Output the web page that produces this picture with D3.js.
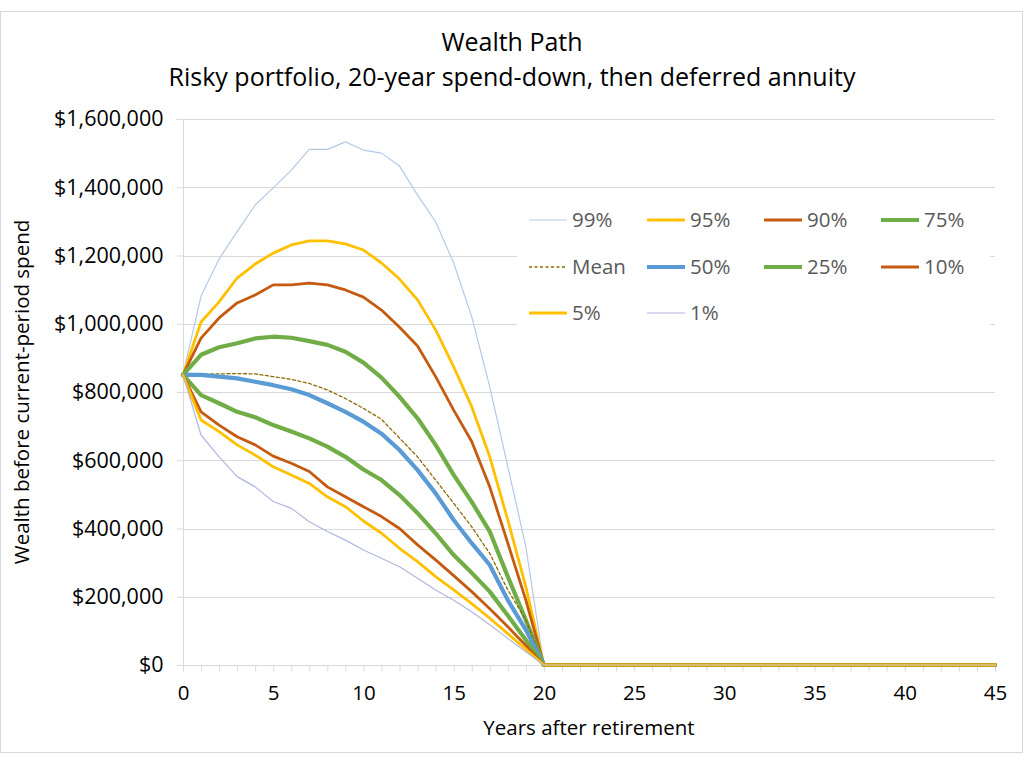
<!DOCTYPE html>
<html><head><meta charset="utf-8">
<script src="https://cdn.jsdelivr.net/npm/d3@7"></script>
<style>
body{margin:0;background:#fff;}
text{font-family:"Open Sans","Noto Sans",sans-serif;}
</style></head>
<body><svg id="c" width="1024" height="768"></svg>
<script>
// Years after retirement
const years = [0,1,2,3,4,5,6,7,8,9,10,11,12,13,14,15,16,17,18,19,20,21,22,23,24,25,26,27,28,29,30,31,32,33,34,35,36,37,38,39,40,41,42,43,44,45];
// Wealth, thousands of dollars
const p99  = [850,1081,1190,1270,1348,1398,1450,1511,1511,1533,1509,1500,1462,1377,1299,1178,1021,815,581,347,0,0,0,0,0,0,0,0,0,0,0,0,0,0,0,0,0,0,0,0,0,0,0,0,0,0];
const p95  = [850,1005,1064,1134,1175,1207,1231,1243,1243,1234,1216,1178,1131,1070,982,874,757,610,425,229,0,0,0,0,0,0,0,0,0,0,0,0,0,0,0,0,0,0,0,0,0,0,0,0,0,0];
const p90  = [850,958,1017,1061,1084,1114,1114,1119,1114,1099,1078,1040,990,935,845,747,655,522,357,190,0,0,0,0,0,0,0,0,0,0,0,0,0,0,0,0,0,0,0,0,0,0,0,0,0,0];
const p75  = [850,909,931,943,957,962,959,949,938,918,886,842,786,723,645,557,478,391,259,132,0,0,0,0,0,0,0,0,0,0,0,0,0,0,0,0,0,0,0,0,0,0,0,0,0,0];
const mean = [850,852,853,854,853,845,837,825,806,781,752,720,665,610,542,474,405,327,220,132,0,0,0,0,0,0,0,0,0,0,0,0,0,0,0,0,0,0,0,0,0,0,0,0,0,0];
const p50  = [850,850,845,840,830,820,808,791,767,742,713,678,630,571,503,425,357,293,190,103,0,0,0,0,0,0,0,0,0,0,0,0,0,0,0,0,0,0,0,0,0,0,0,0,0,0];
const p25  = [850,791,767,742,726,703,684,664,640,610,573,542,498,445,386,322,270,215,145,73,0,0,0,0,0,0,0,0,0,0,0,0,0,0,0,0,0,0,0,0,0,0,0,0,0,0];
const p10  = [850,742,703,669,645,612,591,567,522,493,464,435,400,352,308,262,215,165,112,57,0,0,0,0,0,0,0,0,0,0,0,0,0,0,0,0,0,0,0,0,0,0,0,0,0,0];
const p5   = [850,718,684,645,615,581,557,532,493,464,422,386,342,303,259,220,180,137,92,46,0,0,0,0,0,0,0,0,0,0,0,0,0,0,0,0,0,0,0,0,0,0,0,0,0,0];
const p1   = [850,674,610,552,522,479,459,420,391,366,337,313,288,254,220,190,156,118,78,39,0,0,0,0,0,0,0,0,0,0,0,0,0,0,0,0,0,0,0,0,0,0,0,0,0,0];
const seriesNames = ["99%","95%","90%","75%","Mean","50%","25%","10%","5%","1%"];
const seriesData = [p99,p95,p90,p75,mean,p50,p25,p10,p5,p1];
const seriesColors = ["#b4c9e6","#ffc000","#c55a11","#70ad47","#8c6b00","#5b9bd5","#70ad47","#c55a11","#ffc000","#b0b6e0"];
const seriesWidths = [1.2,2.8,2.8,4.2,1.3,4.2,4.2,2.8,2.8,1.2];
const yTicks = [0,200,400,600,800,1000,1200,1400,1600];
const xTicks = [0,5,10,15,20,25,30,35,40,45];
const title = "Wealth Path";
const subtitle = "Risky portfolio, 20-year spend-down, then deferred annuity";
const xTitle = "Years after retirement";
const yTitle = "Wealth before current-period spend";

const svg = d3.select("#c");
const L=183, R=995, T=119, B=665;
const x = d3.scaleLinear().domain([0,45]).range([L,R]);
const y = d3.scaleLinear().domain([0,1600]).range([B,T]);
const grid="#d9d9d9", txt="#595959";

svg.append("rect").attr("x",0.5).attr("y",11.5).attr("width",1022).attr("height",741)
  .attr("fill","#fff").attr("stroke",grid);

svg.append("text").attr("x",512).attr("y",51).attr("text-anchor","middle")
  .attr("font-size",25).attr("fill","#000").text(title);
svg.append("text").attr("x",512).attr("y",86).attr("text-anchor","middle")
  .attr("font-size",25).attr("fill","#000").text(subtitle);

// gridlines
svg.append("g").selectAll("line").data(yTicks.filter(d=>d>0)).join("line")
  .attr("x1",L).attr("x2",R).attr("y1",d=>Math.round(y(d))+0.5).attr("y2",d=>Math.round(y(d))+0.5)
  .attr("stroke",grid).attr("stroke-width",1);

// y axis
const ya = svg.append("g").attr("transform",`translate(${L+0.5},0)`)
  .call(d3.axisLeft(y).tickValues(yTicks).tickSize(7).tickPadding(13)
    .tickFormat(d=>"$"+d3.format(",")(d*1000)));
ya.select(".domain").attr("stroke",grid).attr("d",`M0,${T}V${B}`);
ya.selectAll(".tick line").attr("stroke",grid);
ya.selectAll(".tick text").attr("font-size",21.5).attr("fill","#000").attr("font-family","Open Sans");

// x axis
const xa = svg.append("g").attr("transform",`translate(0,${B+0.5})`)
  .call(d3.axisBottom(x).tickValues(years).tickSize(6).tickPadding(14)
    .tickFormat(d=>xTicks.includes(d)?d:""));
xa.select(".domain").attr("stroke",grid).attr("d",`M${L},0H${R}`);
xa.selectAll(".tick line").attr("stroke",grid);
xa.selectAll(".tick text").attr("font-size",20.5).attr("fill","#000").attr("font-family","Open Sans");

svg.append("text").attr("x",(L+R)/2).attr("y",735).attr("text-anchor","middle")
  .attr("font-size",20.5).attr("fill","#000").text(xTitle);
svg.append("text").attr("transform",`translate(29,${(T+B)/2}) rotate(-90)`).attr("text-anchor","middle")
  .attr("font-size",20.5).attr("fill","#000").text(yTitle);

// legend box (covers gridlines)
svg.append("rect").attr("x",517).attr("y",197).attr("width",473).attr("height",138).attr("fill","#fff");

// lines
const line = d3.line().x((d,i)=>x(years[i])).y(d=>y(d));
const lg = svg.append("g");
seriesData.forEach((s,k)=>{
  lg.append("path").datum(s).attr("d",line).attr("fill","none")
    .attr("stroke",seriesColors[k]).attr("stroke-width",seriesWidths[k])
    .attr("stroke-linejoin","round").attr("stroke-linecap","round")
    .attr("stroke-dasharray",seriesNames[k]==="Mean"?"3,2.5":null);
});

// legend
const colX=[529,647,764,881], rowY=[220,267,313];
seriesNames.forEach((n,k)=>{
  const cx=colX[k%4], cy=rowY[Math.floor(k/4)];
  svg.append("line").attr("x1",cx).attr("x2",cx+38).attr("y1",cy).attr("y2",cy)
    .attr("stroke",seriesColors[k]).attr("stroke-width",seriesWidths[k])
    .attr("stroke-dasharray",n==="Mean"?"3,2.5":null);
  svg.append("text").attr("x",cx+43).attr("y",cy+7).attr("font-size",20.5).attr("fill",txt).text(n);
});
</script></body></html>
